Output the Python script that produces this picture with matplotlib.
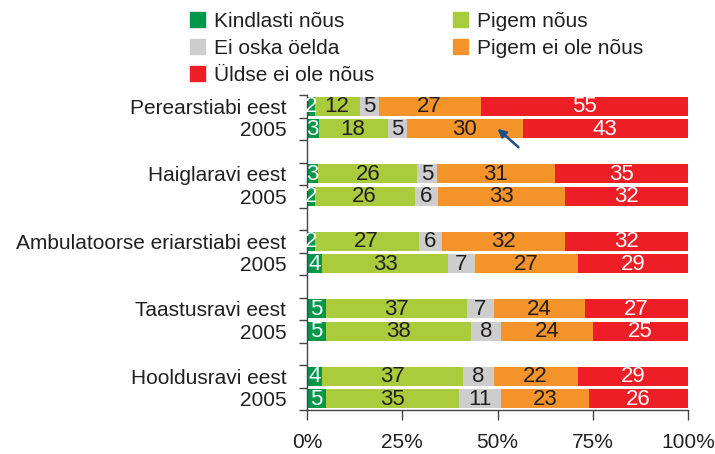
import numpy as np
import matplotlib.pyplot as plt
from matplotlib.patches import Patch

# rows: each service, then the same question in 2005
row_labels = ["Perearstiabi eest", "2005",
              "Haiglaravi eest", "2005",
              "Ambulatoorse eriarstiabi eest", "2005",
              "Taastusravi eest", "2005",
              "Hooldusravi eest", "2005"]

kindlasti_nous = [2, 3, 3, 2, 2, 4, 5, 5, 4, 5]
pigem_nous = [12, 18, 26, 26, 27, 33, 37, 38, 37, 35]
ei_oska = [5, 5, 5, 6, 6, 7, 7, 8, 8, 11]
pigem_ei_ole = [27, 30, 31, 33, 32, 27, 24, 24, 22, 23]
uldse_ei_ole = [55, 43, 35, 32, 32, 29, 27, 25, 29, 26]

series_names = ["Kindlasti nõus", "Pigem nõus", "Ei oska öelda",
                "Pigem ei ole nõus", "Üldse ei ole nõus"]
series = [kindlasti_nous, pigem_nous, ei_oska, pigem_ei_ole, uldse_ei_ole]
colors = ["#00974B", "#AACB3B", "#CDCDCD", "#F3932A", "#ED1E26"]
text_colors = ["white", "#231F20", "#231F20", "#231F20", "white"]

plt.rcParams["font.family"] = ["Liberation Sans", "DejaVu Sans"]
plt.rcParams["font.size"] = 15
plt.rcParams["text.color"] = "#231F20"
plt.rcParams["xtick.labelcolor"] = "#231F20"
plt.rcParams["ytick.labelcolor"] = "#231F20"

fig = plt.figure(figsize=(7.15, 4.54), dpi=100)
ax = fig.add_axes([307 / 715, 1 - 410 / 454, 381 / 715, 315 / 454])

# 2 bars per group, 1 empty slot between groups
n_groups = len(row_labels) // 2
ypos = []
for g in range(n_groups):
    ypos += [g * 3, g * 3 + 1]
ypos = np.array(ypos, dtype=float)

data = np.array(series, dtype=float)
shares = data / data.sum(axis=0) * 100  # stacked to 100%
left = np.zeros(len(row_labels))
for i in range(len(series)):
    ax.barh(ypos, shares[i], left=left, height=0.86, color=colors[i],
            edgecolor="none", label=series_names[i])
    for j in range(len(row_labels)):
        ax.text(left[j] + shares[i][j] / 2, ypos[j] + 0.03, str(series[i][j]),
                ha="center", va="center", color=text_colors[i], fontsize=16)
    left += shares[i]

# arrow in the 2005 row of Perearstiabi
ax.annotate("", xy=(50, ypos[1]), xytext=(55.5, ypos[1] + 0.82),
            arrowprops=dict(arrowstyle="-|>", color="#1D4F8C", lw=1.8,
                            mutation_scale=12, shrinkA=0, shrinkB=0))

ax.set_xlim(0, 100)
ax.set_ylim(ypos[-1] + 0.5, -0.5)
ax.set_xticks([0, 25, 50, 75, 100])
ax.set_xticklabels(["0%", "25%", "50%", "75%", "100%"])
ax.tick_params(axis="x", length=7, width=1, pad=9.5, color="#444444")

ax.set_yticks(ypos)
ax.set_yticklabels(row_labels)
ax.tick_params(axis="y", which="major", length=0, pad=15)
bounds = np.arange(-0.5, ypos[-1] + 1, 1.0)
ax.set_yticks(bounds, minor=True)
ax.tick_params(axis="y", which="minor", length=6, width=1, color="#444444")

for s in ["top", "right"]:
    ax.spines[s].set_visible(False)
for s in ["left", "bottom"]:
    ax.spines[s].set_color("#444444")
    ax.spines[s].set_linewidth(1)

handles = [Patch(color=colors[k]) for k in [0, 2, 4, 1, 3]]
labels = [series_names[k] for k in [0, 2, 4, 1, 3]]
fig.legend(handles, labels, ncol=2, loc="upper left",
           bbox_to_anchor=(190 / 715, 1 - 12 / 454), frameon=False,
           borderpad=0, borderaxespad=0, handlelength=0.7, handleheight=0.7,
           handletextpad=0.45, labelspacing=0.38, columnspacing=3.8)

fig.savefig("out.png", dpi=100)
